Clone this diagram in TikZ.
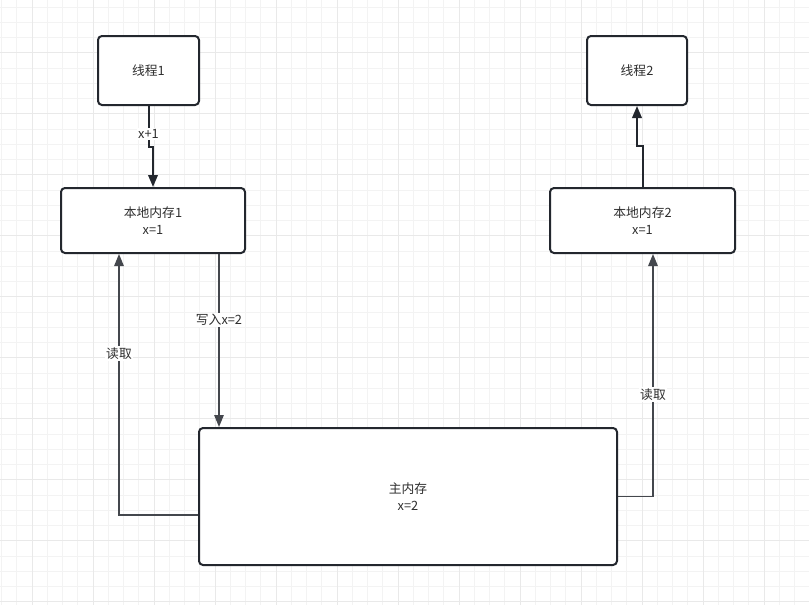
\documentclass[tikz,border=0pt]{standalone}
\usepackage{fontspec}
\setmainfont{Noto Sans CJK SC}
\usepackage{tikz}
\usetikzlibrary{positioning, arrows.meta, calc}

\definecolor{edge}{HTML}{23272E}
\definecolor{txt}{HTML}{2E2E2E}
\definecolor{gridminor}{HTML}{F3F3F3}
\definecolor{gridmajor}{HTML}{E9E9E9}

\begin{document}
\begin{tikzpicture}[
  x=1pt, y=-1pt,
  font=\fontsize{12.8}{17}\selectfont,
  box/.style={draw=edge, line width=2pt, rounded corners=4pt, fill=white,
    text=txt, align=center},
  arrow/.style={-{Triangle[length=12pt,width=9.5pt]}, draw=edge, line width=2pt},
  link/.style={-{Triangle[length=12pt,width=9.5pt]}, draw=edge!85, line width=1.4pt},
  lbl/.style={fill=white, text=txt, inner sep=1.5pt},
]
  \fill[white] (0,0) rectangle (809,605);
  \useasboundingbox (0,0) rectangle (809,605);

  % background grid
  \foreach \i in {0,...,52} {\draw[gridminor, line width=1pt] (1.5+\i*15.25,0) -- ++(0,605);}
  \foreach \j in {0,...,39} {\draw[gridminor, line width=1pt] (0,7+\j*15.25) -- ++(809,0);}
  \foreach \i in {0,...,12} {\draw[gridmajor, line width=1pt] (32+\i*61,0) -- ++(0,605);}
  \foreach \j in {0,...,9} {\draw[gridmajor, line width=1pt] (0,52.75+\j*61) -- ++(809,0);}

  % boxes
  \node[box, minimum width=101pt, minimum height=69pt] (t1) at (148.5,70.5) {线程1};
  \node[box, minimum width=100pt, minimum height=69pt] (t2) at (637,70.5)   {线程2};
  \node[box, minimum width=184pt, minimum height=65pt] (l1) at (153,220.5)  {本地内存1\\x=1};
  \node[box, minimum width=185pt, minimum height=65pt] (l2) at (642.5,220.5) {本地内存2\\x=1};
  \node[box, minimum width=418pt, minimum height=137pt] (mm) at (408,496.5) {主内存\\x=2};

  % connectors
  \draw[arrow] (t1.south) -- node[lbl, pos=0.68] {x+1} ++(0,41) -| (l1.north);
  \draw[arrow] (l2.north) -- ++(0,-41) -| (t2.south);

  \coordinate (w1) at ($(l1.south east)+(-27,0)$);
  \draw[link] (w1) -- node[lbl, pos=0.38] {写入x=2} (w1 |- mm.north);

  \coordinate (r1) at ($(mm.west)+(0,18.5)$);
  \draw[link] (r1) -| node[lbl, pos=0.81] {读取} ($(l1.south west)+(59,0)$);
  \draw[link] (mm.east) -| node[lbl, pos=0.71] {读取} ($(l2.south)+(10.5,0)$);
\end{tikzpicture}
\end{document}
